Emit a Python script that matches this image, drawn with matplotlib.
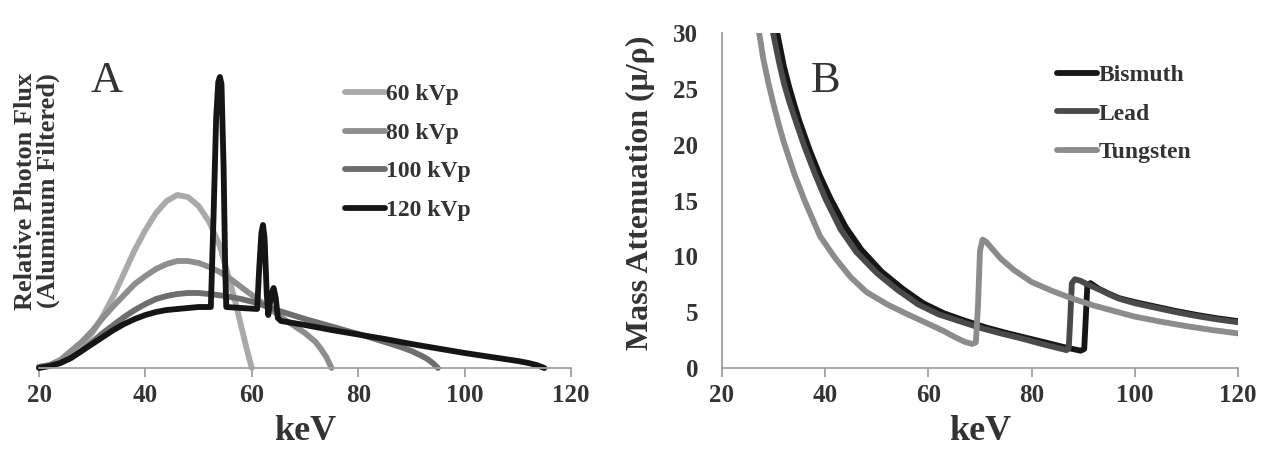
import matplotlib
matplotlib.use("Agg")
import matplotlib.pyplot as plt

# ---------------- Panel A: X-ray spectra (relative photon flux) ----------------
e60 = [20, 22, 24, 26, 28, 30, 32, 34, 36, 38, 40, 42, 44, 46, 48, 50, 52, 54, 55, 56, 57, 58, 59, 60]
f60 = [1, 3, 7, 14, 23, 35, 52, 72, 95, 118, 138, 155, 167, 173, 171, 162, 146, 122, 103, 84, 64, 42, 20, 0]

e80 = [20, 22, 24, 26, 28, 30, 32, 34, 36, 38, 40, 42, 44, 46, 48, 50, 52, 54, 56, 58, 60, 62, 64, 66, 68, 70, 72, 73, 74, 75]
f80 = [1, 3, 8, 17, 26, 37, 50, 62, 73, 84, 92, 99, 104, 107, 107, 105, 101, 96, 89, 81, 73, 65, 57, 49, 42, 35, 26, 19, 11, 0]

e100 = [20, 22, 24, 26, 28, 30, 32, 34, 36, 38, 40, 42, 44, 46, 48, 50, 52, 55, 58, 61, 64, 67, 70, 74, 78, 82, 85, 88, 90, 92, 93, 94, 95]
f100 = [1, 2, 5, 10, 17, 26, 35, 43, 51, 58, 64, 69, 72, 74, 75, 75, 74, 72, 69, 65, 59, 54, 49, 43, 37, 31, 26, 21, 17, 12, 9, 5, 0]

e120 = [20, 22, 24, 26, 28, 30, 32, 34, 36, 38, 40, 42, 44, 46, 48, 50, 51.8,
        52.3, 52.8, 53.3, 53.7, 54.0, 54.3, 54.7, 55.0, 55.2, 58.0, 61.0,
        61.4, 61.8, 62.1, 62.4, 62.8, 63.1, 63.6, 64.1, 64.5, 64.9, 65.5,
        70, 75, 80, 85, 90, 95, 100, 105, 110, 112, 113.5, 115]
f120 = [0, 2, 5, 10, 17, 24, 31, 38, 44, 49, 53, 56, 58, 59, 60, 61, 61,
        61, 150, 250, 286, 291, 284, 200, 100, 61, 60, 59,
        100, 135, 143, 130, 75, 53, 72, 80, 70, 50, 47,
        43, 38, 33.5, 29, 24, 19.5, 15, 11, 7, 5, 3, 0]

spectra_labels = ["60 kVp", "80 kVp", "100 kVp", "120 kVp"]
spectra_colors = ["#aaaaaa", "#8e8e8e", "#6e6e6e", "#151515"]

# ---------------- Panel B: mass attenuation ----------------
e_bi = [30.7, 32, 33, 34, 35, 37, 39, 41, 44, 47, 51, 55, 59, 63, 67, 71, 75, 79, 83, 86, 88, 89.5,
        90.2, 90.5, 90.8, 91.4, 93, 95, 97, 100, 104, 108, 112, 116, 120]
bismuth = [30, 27.0, 25.2, 23.6, 22.1, 19.5, 17.2, 15.2, 12.6, 10.6, 8.6, 7.1, 5.8, 4.9, 4.25, 3.65, 3.15, 2.7, 2.25, 1.9, 1.7, 1.55,
           1.7, 4.5, 7.4, 7.6, 7.1, 6.65, 6.25, 5.9, 5.5, 5.1, 4.75, 4.45, 4.2]

e_pb = [29.9, 31, 32, 33, 34, 36, 38, 40, 43, 46, 50, 54, 58, 62, 66, 70, 74, 78, 82, 85, 86.8,
        87.2, 87.5, 87.8, 88.4, 89.5, 91, 93, 95, 97, 100, 104, 108, 112, 116, 120]
lead = [30, 27.5, 25.5, 23.9, 22.5, 19.8, 17.4, 15.2, 12.4, 10.4, 8.5, 7.0, 5.7, 4.8, 4.2, 3.6, 3.1, 2.65, 2.15, 1.8, 1.6,
        1.8, 4.5, 7.6, 7.95, 7.8, 7.45, 7.05, 6.6, 6.2, 5.8, 5.4, 5.0, 4.65, 4.35, 4.1]

e_w = [27.2, 28, 29, 30, 31, 32, 34, 36, 39, 42, 45, 48, 52, 56, 60, 63, 65, 67, 68.5, 69.2,
       69.6, 70.0, 70.5, 71.2, 72.5, 74, 76.5, 80, 84, 88, 92, 96, 100, 105, 110, 115, 120]
tungsten = [30, 27.7, 25.5, 23.6, 21.8, 20.2, 17.4, 15.0, 11.8, 9.8, 8.1, 6.8, 5.7, 4.8, 3.95, 3.3, 2.8, 2.35, 2.15, 2.3,
            5.5, 10.5, 11.5, 11.3, 10.6, 9.8, 8.8, 7.7, 6.9, 6.2, 5.6, 5.1, 4.6, 4.15, 3.75, 3.4, 3.1]

atten_labels = ["Bismuth", "Lead", "Tungsten"]
atten_colors = ["#161616", "#4a4a4a", "#8c8c8c"]

x_ticks = [20, 40, 60, 80, 100, 120]
y_ticks_b = [0, 5, 10, 15, 20, 25, 30]

# ---------------- styling ----------------
SERIF = ["Liberation Serif", "DejaVu Serif"]
plt.rcParams["font.family"] = SERIF
TXT = "#333333"
AXC = "#a0a0a0"
LW = 4.2
TICK_FS = 18

W, H = 1269, 451
fig = plt.figure(figsize=(W / 100, H / 100), dpi=100)

def rect(x0, x1, y_top, y_bot):
    return [x0 / W, (H - y_bot) / H, (x1 - x0) / W, (y_bot - y_top) / H]

axA = fig.add_axes(rect(39, 571, 32, 368))
axB = fig.add_axes(rect(722, 1238, 33, 368))

# Panel A
for e, f, lab, c in zip([e60, e80, e100, e120], [f60, f80, f100, f120], spectra_labels, spectra_colors):
    axA.plot(e, f, color=c, lw=LW, label=lab, solid_joinstyle="round", solid_capstyle="round", clip_on=False)
axA.set_xlim(20, 120)
axA.set_ylim(0, 336)
axA.set_yticks([])
for s in ["left", "right", "top"]:
    axA.spines[s].set_visible(False)

# Panel B
for e, v, lab, c in zip([e_bi, e_pb, e_w], [bismuth, lead, tungsten], atten_labels, atten_colors):
    axB.plot(e, v, color=c, lw=LW, label=lab, solid_joinstyle="round", solid_capstyle="round")
axB.set_xlim(20, 120)
axB.set_ylim(0, 30)
axB.set_yticks(y_ticks_b)
for s in ["right", "top"]:
    axB.spines[s].set_visible(False)
axB.spines["left"].set_color(AXC)
axB.spines["left"].set_linewidth(1.3)
axB.tick_params(axis="y", length=0, pad=17, labelsize=TICK_FS, labelcolor=TXT)
for t in axB.get_yticklabels():
    t.set_fontweight("bold")

for ax in (axA, axB):
    ax.set_xticks(x_ticks)
    ax.spines["bottom"].set_color(AXC)
    ax.spines["bottom"].set_linewidth(1.3)
    ax.tick_params(axis="x", direction="out", length=6.5, width=1.3, color=AXC,
                   pad=5, labelsize=TICK_FS, labelcolor=TXT)
    for t in ax.get_xticklabels():
        t.set_fontweight("bold")
    ax.set_xlabel("keV", fontsize=26, fontweight="bold", color=TXT, va="center")
    ax.xaxis.set_label_coords(0.5, -0.19)
    ax.set_facecolor("none")

axA.set_ylabel("Relative Photon Flux\n(Aluminum Filtered)", fontsize=19, fontweight="bold",
               color=TXT, linespacing=0.95, va="center", ha="center")
axA.yaxis.set_label_coords(-0.004, 0.527)
axB.set_ylabel("Mass Attenuation (\u03bc/\u03c1)", fontsize=23, fontweight="bold", color=TXT,
               va="center", ha="center")
axB.yaxis.set_label_coords(-0.158, 0.522)

axA.text(0.128, 0.855, "A", transform=axA.transAxes, fontsize=32, color=TXT, ha="center", va="center")
axB.text(0.2, 0.858, "B", transform=axB.transAxes, fontsize=32, color=TXT, ha="center", va="center")

legA = axA.legend(loc="upper left", bbox_to_anchor=(0.575, 0.846), frameon=False,
                  prop={"family": SERIF, "weight": "bold", "size": 17},
                  handlelength=1.7, handletextpad=0.05, labelspacing=0.72,
                  borderpad=0, borderaxespad=0)
legB = axB.legend(loc="upper left", bbox_to_anchor=(0.649, 0.906), frameon=False,
                  prop={"family": SERIF, "weight": "bold", "size": 17},
                  handlelength=1.7, handletextpad=0.05, labelspacing=0.72,
                  borderpad=0, borderaxespad=0)
for leg in (legA, legB):
    for t in leg.get_texts():
        t.set_color(TXT)

fig.savefig("out.png", dpi=100)
